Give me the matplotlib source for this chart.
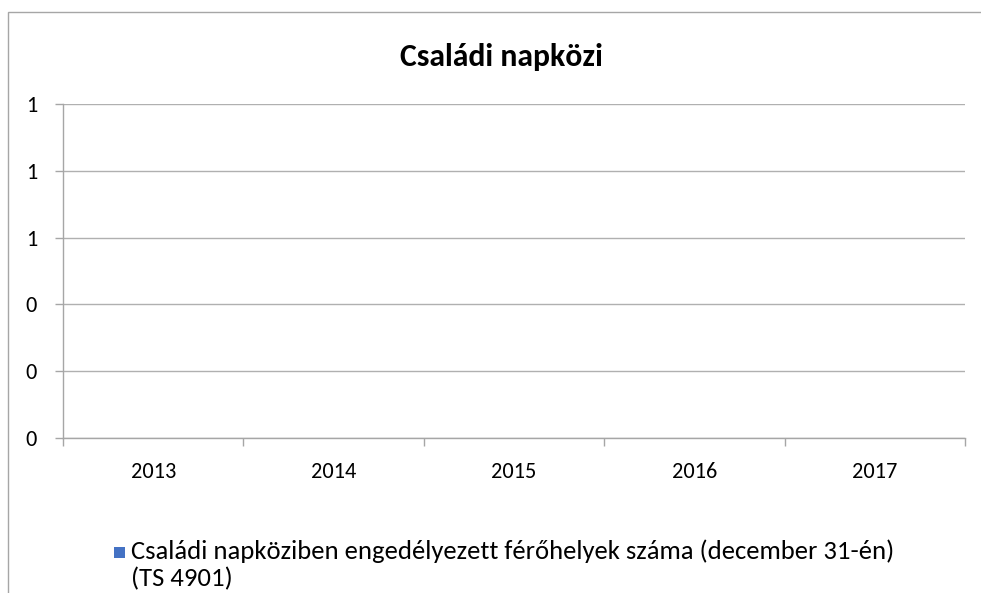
import matplotlib
matplotlib.use("Agg")
import matplotlib.pyplot as plt
from matplotlib.patches import Rectangle
from matplotlib.ticker import FixedLocator, FuncFormatter
from matplotlib.legend_handler import HandlerPatch

plt.rcParams['font.family'] = ['Carlito', 'Lato', 'DejaVu Sans']

title = "Családi napközi"
years = ["2013", "2014", "2015", "2016", "2017"]
values = [0, 0, 0, 0, 0]
series_name = "Családi napköziben engedélyezett férőhelyek száma (december 31-én)\n(TS 4901)"
y_ticks = [0, 0.2, 0.4, 0.6, 0.8, 1.0]
bar_color = "#4472C4"

W, H = 981, 593
fig = plt.figure(figsize=(W / 100, H / 100), dpi=100)
fig.patch.set_facecolor("white")

# outer chart border (cropped at right and bottom)
fig.patches.append(Rectangle((8 / W, -0.05), 1.2, 1 - 12 / H + 0.05,
                             transform=fig.transFigure, fill=False,
                             edgecolor="#A6A6A6", linewidth=1.0))

ax = fig.add_axes([63 / W, 1 - 438 / H, (965 - 63) / W, (438 - 104) / H])
x = list(range(len(years)))
bars = ax.bar(x, values, width=0.6, color=bar_color, label=series_name)

ax.set_xlim(-0.5, len(years) - 0.5)
ax.set_ylim(0, 1.0)
ax.yaxis.set_major_locator(FixedLocator(y_ticks))
ax.yaxis.set_major_formatter(FuncFormatter(lambda v, p: f"{v:.0f}"))
ax.grid(axis="y", color="#B0B0B0", linewidth=1.0)
ax.set_axisbelow(True)

for s in ["top", "right"]:
    ax.spines[s].set_visible(False)
ax.spines["left"].set_color("#A6A6A6")
ax.spines["bottom"].set_color("#A6A6A6")
ax.spines["left"].set_linewidth(1.0)
ax.spines["bottom"].set_linewidth(1.0)

ax.set_xticks(x)
ax.set_xticklabels(years)
ax.set_xticks([i - 0.5 for i in range(len(years) + 1)], minor=True)
ax.tick_params(axis="x", which="major", length=0, pad=17, labelsize=16, colors="black")
ax.tick_params(axis="x", which="minor", length=5.8, color="#A6A6A6", width=1.0)
ax.tick_params(axis="y", which="major", length=5.8, color="#A6A6A6", width=1.0,
               pad=13, labelsize=16, labelcolor="black")

fig.text(501 / W, 1 - 57 / H, title, ha="center", va="center",
         fontsize=22.9, fontweight="bold")

MARK_PX = 10.5


def square_top(legend, orig_handle, xdescent, ydescent, width, height, fontsize):
    s = MARK_PX * 72 / 100  # points
    top_offset = 8 * 72 / 100
    return Rectangle((-xdescent, -ydescent + height - top_offset - s), s, s)


def copy_from_bar(handle, orig):
    handle.update_from(orig.patches[0])


leg = ax.legend(loc="upper left", bbox_to_anchor=(114 / W, 1 - 539 / H),
                bbox_transform=fig.transFigure, frameon=False, fontsize=19.2,
                handlelength=0.5, handleheight=1.2, handletextpad=0.15,
                borderaxespad=0, borderpad=0,
                handler_map={type(bars): HandlerPatch(patch_func=square_top,
                                                      update_func=copy_from_bar)})
for t in leg.get_texts():
    t.set_linespacing(1.25)
for col in leg._legend_handle_box.get_children():
    for item in col.get_children():
        item.align = "top"

fig.savefig("out.png", dpi=100, facecolor="white")
